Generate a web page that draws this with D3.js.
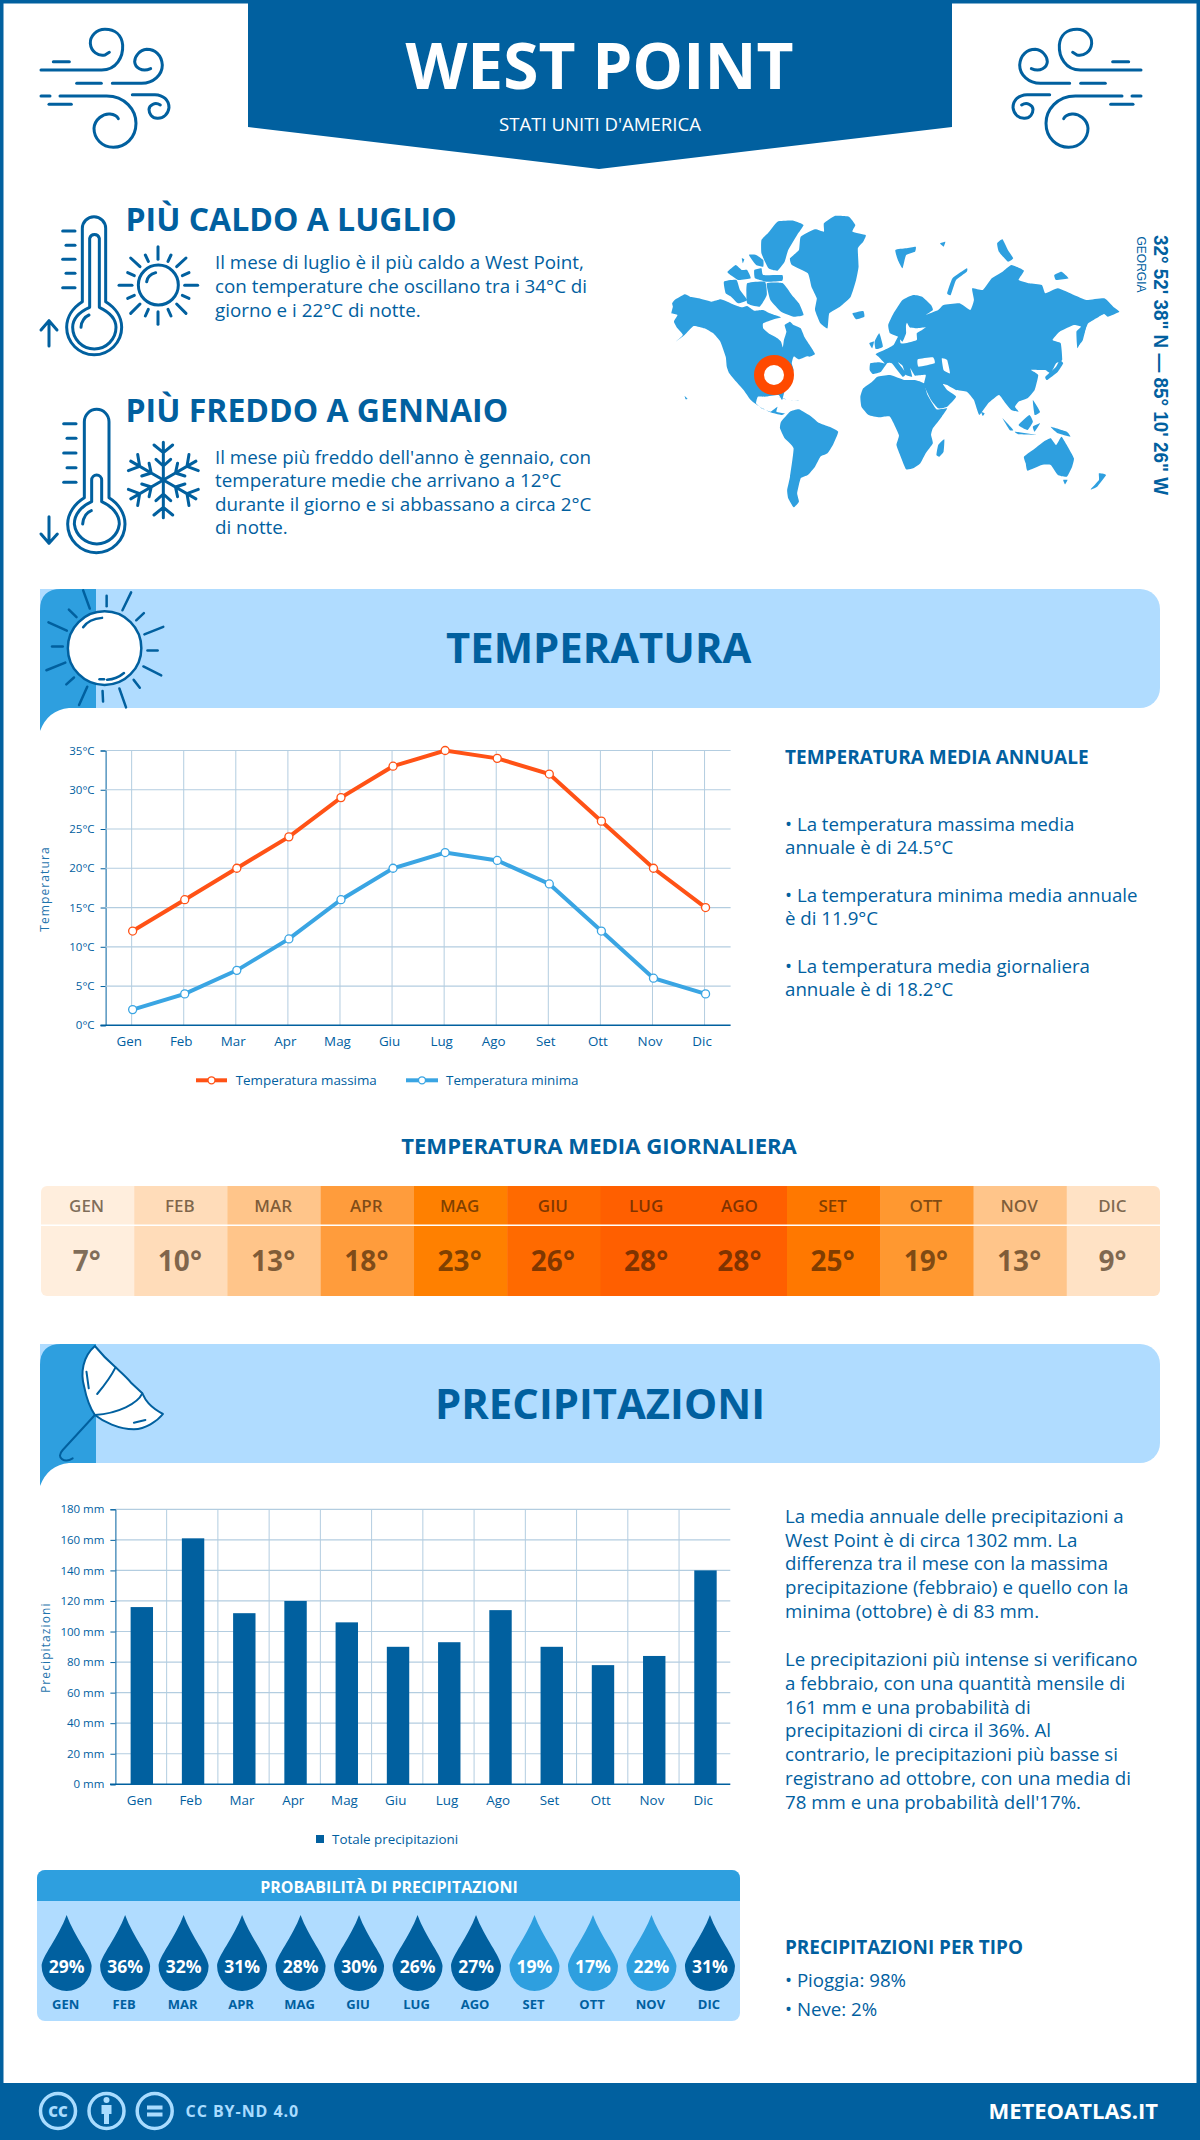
<!DOCTYPE html>
<html><head><meta charset="utf-8">
<script src="https://cdnjs.cloudflare.com/ajax/libs/d3/7.8.5/d3.min.js"></script>
<style>html,body{margin:0;padding:0;background:#fff}svg{display:block}text{font-family:"Open Sans",sans-serif}</style>
</head><body><div id="c"></div>
<script>
const months=["Gen","Feb","Mar","Apr","Mag","Giu","Lug","Ago","Set","Ott","Nov","Dic"];
const monthsUpper=["GEN","FEB","MAR","APR","MAG","GIU","LUG","AGO","SET","OTT","NOV","DIC"];
const tempMax=[12,16,20,24,29,33,35,34,32,26,20,15];
const tempMin=[2,4,7,11,16,20,22,21,18,12,6,4];
const tempTicks=[0,5,10,15,20,25,30,35];
const dailyTemp=[7,10,13,18,23,26,28,28,25,19,13,9];
const precip=[116,161,112,120,106,90,93,114,90,78,84,140];
const precipTicks=[0,20,40,60,80,100,120,140,160,180];
const precipProb=[29,36,32,31,28,30,26,27,19,17,22,31];
const hotLines=["Il mese di luglio è il più caldo a West Point,","con temperature che oscillano tra i 34°C di","giorno e i 22°C di notte."];
const coldLines=["Il mese più freddo dell'anno è gennaio, con","temperature medie che arrivano a 12°C","durante il giorno e si abbassano a circa 2°C","di notte."];
const tempSummary=["• La temperatura massima media","annuale è di 24.5°C",null,"• La temperatura minima media annuale","è di 11.9°C",null,"• La temperatura media giornaliera","annuale è di 18.2°C"];
const precipText=["La media annuale delle precipitazioni a","West Point è di circa 1302 mm. La","differenza tra il mese con la massima","precipitazione (febbraio) e quello con la","minima (ottobre) è di 83 mm.",null,"Le precipitazioni più intense si verificano","a febbraio, con una quantità mensile di","161 mm e una probabilità di","precipitazioni di circa il 36%. Al","contrario, le precipitazioni più basse si","registrano ad ottobre, con una media di","78 mm e una probabilità dell'17%."];

const DARK="#01609f",MID="#2e9fdf",LIGHT="#b0dcff",GRID="#b3cde0",HOT="#ff5216",COLD="#3aa5e3";
const svg=d3.select("#c").append("svg").attr("width",1200).attr("height",2140).attr("viewBox","0 0 1200 2140");
function T(g,x,y,s,o={}){const t=g.append("text").attr("x",x).attr("y",y).text(s)
 .attr("fill",o.fill||DARK).attr("font-size",o.size||18).attr("font-weight",o.weight||400).attr("text-anchor",o.anchor||"start");
 if(o.ls)t.attr("letter-spacing",o.ls); if(o.family)t.style("font-family",o.family); if(o.op)t.attr("fill-opacity",o.op); if(o.len)t.attr("textLength",o.len).attr("lengthAdjust","spacingAndGlyphs"); if(o.rot!=null)t.attr("transform",`rotate(${o.rot} ${x} ${y})`); return t;}
function lines(g,x,y0,step,arr,o){arr.forEach((s,i)=>{if(s)T(g,x,y0+i*step,s,o)})}
function P(g,d,o={}){return g.append("path").attr("d",d).attr("fill",o.fill||"none").attr("stroke",o.stroke===undefined?DARK:o.stroke).attr("stroke-width",o.w||3).attr("stroke-linecap","round").attr("stroke-linejoin","round").attr("vector-effect","non-scaling-stroke")}
function zoomG(x,y,sx,sy){return svg.append("g").attr("transform",`translate(${x},${y}) scale(${sx},${sy===undefined?sx:sy})`)}

// frame
svg.append("rect").attr("x",1.75).attr("y",1.75).attr("width",1196.5).attr("height",2136).attr("fill","#fff").attr("stroke",DARK).attr("stroke-width",3.5);
// header
svg.append("path").attr("d","M248 0H952V127L599 169L248 127Z").attr("fill",DARK);
T(svg,599.5,89,"WEST POINT",{fill:"#fff",size:64,weight:700,anchor:"middle"});
T(svg,600,131,"STATI UNITI D'AMERICA",{fill:"#fff",size:18.6,anchor:"middle"});
// wind icons
const windPaths=["M63 180H245C290 180 310 140 308 105C305 75 285 58 255 58C228 58 210 80 211 100C213 125 235 140 255 135L268 127","M100 155H148","M170 220H244","M277 220H365C400 220 427 195 427 165C425 135 405 118 380 118C358 120 344 140 344 155C345 172 365 188 392 176","M63 258H90","M120 258H260C315 258 348 300 348 340C348 385 315 412 280 412C245 412 222 385 222 355C224 328 250 310 270 312C282 313 292 320 295 326","M87 283H154","M337 254H405C430 255 447 270 447 293C445 312 430 326 412 325C395 325 387 310 387 298C388 285 405 275 421 285"];
[0,1].forEach(i=>{const g=svg.append("g").attr("transform",i?"translate(1182,0) scale(-1,1) translate(20,10) scale(.3333)":"translate(20,10) scale(.3333)");windPaths.forEach(d=>P(g,d,{w:3}))});
// hot block
T(svg,125.5,231,"PIÙ CALDO A LUGLIO",{size:32,weight:700});
lines(svg,215,268.5,24,hotLines,{size:18.8});
{const g=zoomG(30,200,1/3);
 ["M157 305V85A35 35 0 0 1 227 85V305C255 322 275 350 275 382A82 82 0 0 1 110 382C110 350 130 322 157 305Z","M179 322V115A15 15 0 0 1 208 115V322C235 335 258 355 258 382A65 65 0 0 1 128 382C128 355 150 335 179 322Z","M153 382C153 365 165 350 177 345","M98 93H135","M108 136H135","M98 178H135","M108 220H135","M98 263H135","M57 438V362M33 390L57 362L81 390",
 "M267 256H306","M464 256H503","M384 140V178","M384 335V373","M302 174L330 200","M468 174L440 200","M302 340L330 312","M468 340L440 312","M346 165L355 184","M423 165L414 184","M293 218L313 227","M477 218L457 227","M293 295L313 286","M477 295L457 286","M346 348L355 328","M423 348L414 328","M350 245C352 232 362 222 377 218"].forEach(d=>P(g,d));
 g.append("circle").attr("cx",385).attr("cy",255).attr("r",60).attr("fill","none").attr("stroke",DARK).attr("stroke-width",9);}
// cold block
T(svg,125.5,422,"PIÙ FREDDO A GENNAIO",{size:32,weight:700});
lines(svg,215,463.5,23.6,coldLines,{size:18.8});
{const g=zoomG(30,400,1/3);
 ["M163 293V65A37 37 0 0 1 237 65V293C265 310 285 340 285 372A85 85 0 0 1 113 372C113 340 135 310 163 293Z","M185 305V240A15 15 0 0 1 215 240V305C245 318 268 342 268 372A68 68 0 0 1 133 372C133 342 155 318 185 305Z","M158 372C160 352 170 337 184 332","M101 71H138","M111 115H138","M101 159H138","M111 203H138","M101 247H138","M57 350V430M33 402L57 430L82 402"].forEach(d=>P(g,d));
 [0,60,120,180,240,300].forEach(a=>{const h=g.append("g").attr("transform",`translate(400,240) rotate(${a})`);P(h,"M0 0V-113M-28 -105L0 -82L28 -105M-22 -62L0 -42L22 -62");});}

// world map (hand traced outline)
const mapLand=[
"90,310 97,300 125,283 140,290 165,295 200,305 225,298 240,303 265,315 285,322 300,318 320,332 345,330 360,338 378,345 395,352 375,358 345,370 345,385 360,400 385,415 395,425 400,442 403,420 410,395 405,375 420,365 430,375 450,385 460,410 478,440 490,462 475,470 450,465 430,470 425,490 430,510 420,530 408,560 398,600 388,585 350,590 330,590 325,610 340,625 365,635 385,620 382,635 405,640 395,645 365,637 335,620 310,600 290,570 265,540 250,520 243,500 240,470 225,425 205,400 180,385 150,378 125,405 100,425 120,405 105,385 95,365 105,345 88,340 92,320",
"515,70 545,48 585,50 603,75 595,95 632,105 625,125 610,145 612,200 605,240 590,290 560,320 530,340 525,385 505,370 490,330 495,295 480,260 470,220 425,195 420,175 445,150 450,110 490,88 515,95",
"340,120 358,100 385,65 430,62 458,75 440,105 415,150 405,185 385,212 360,205 340,160",
"355,250 400,250 425,285 445,310 458,345 430,350 395,335 365,300",
"245,215 268,195 285,210 300,210 310,235 275,240 250,222","320,210 340,205 345,225 398,225 398,242 355,245 322,235","235,245 270,240 280,270 300,300 275,310 255,290 240,280","300,250 350,245 355,285 335,320 300,310","305,165 325,165 345,180 345,200 325,195","285,175 292,178 288,190","430,465 460,450 472,465 445,478",
"395,665 420,635 445,628 480,650 500,668 530,680 555,695 540,735 525,760 505,770 490,800 470,825 450,835 440,880 445,905 430,922 415,895 412,870 420,830 430,745 405,715 392,685",
"385,590 420,600 445,603 410,598","125,588 133,596 128,598",
"595,340 625,333 628,350 605,358","715,150 745,145 772,140 770,155 745,165 735,205 722,180","840,130 855,125 850,140","860,280 875,235 915,205 915,215 885,240 870,285","1000,130 1015,118 1030,150 1045,175 1030,185 1005,155","1160,225 1180,215 1200,235 1165,240",
"657,425 670,400 680,440 660,447","642,430 655,425 650,445",
"645,490 670,487 685,490 668,470 660,462 690,447 710,435 720,415 727,405 730,430 750,428 775,420 775,400 790,390 800,382 775,385 755,382 745,360 760,340 745,375 745,400 735,425 722,410 700,400 695,375 710,340 735,300 765,285 790,290 815,315 820,330 800,345 835,330 850,315 895,310 925,330 935,300 930,265 960,270 985,235 1015,215 1040,195 1075,212 1060,240 1090,250 1125,255 1135,280 1170,265 1215,285 1250,300 1300,295 1325,320 1342,335 1310,350 1300,342 1285,350 1255,370 1245,395 1225,445 1222,395 1235,380 1215,375 1175,395 1155,420 1178,430 1182,480 1165,490 1150,520 1135,510 1115,510 1095,510 1115,525 1105,570 1085,595 1060,605 1050,620 1060,635 1040,630 1025,612 1005,585 975,610 950,645 935,600 915,575 885,570 860,555 848,552 860,570 885,590 860,620 835,625 815,600 795,555 800,525 770,527 757,505 762,530 745,525 735,497 722,487 745,520 735,530 705,490 692,490 675,515 652,522 643,510",
"617,590 625,565 650,545 665,530 700,525 740,540 770,540 795,550 805,585 830,628 860,625 845,650 820,685 815,705 820,730 800,760 785,790 765,805 745,808 730,770 718,735 725,705 700,650 670,652 640,645 620,620",
"835,735 852,718 850,755 838,770 830,765",
"1135,530 1165,500 1175,480 1185,490 1170,515 1140,540","1225,440 1235,395 1250,375 1240,420",
"1015,655 1045,690 1035,690","1050,695 1110,705 1060,703","1060,675 1090,645 1100,665 1085,690","1100,600 1120,635 1105,645","1100,680 1120,670 1105,695","1150,680 1195,695 1205,710 1170,700",
"1075,770 1100,750 1130,725 1150,715 1165,735 1180,710 1195,735 1215,775 1210,800 1195,830 1170,825 1150,795 1125,795 1085,812 1080,790","1185,840 1197,840 1190,853","1285,820 1305,825 1280,860 1262,868 1285,840","955,635 965,640 960,648"];
const mapHoles=["778,478 820,472 825,490 780,500","845,475 860,480 868,520 850,510"];
{const g=zoomG(640,200,1/2.8,1/3);
 const parse=s=>s.split(" ").map(p=>p.split(",").map(Number));
 const ln=d3.line().curve(d3.curveCardinalClosed.tension(.6));
 mapLand.forEach(s=>g.append("path").attr("d",ln(parse(s))).attr("fill",MID));
 mapHoles.forEach(s=>g.append("path").attr("d",ln(parse(s))).attr("fill","#fff"));}
svg.append("circle").attr("cx",774).attr("cy",375).attr("r",15).attr("fill","#fff").attr("stroke","#ff4a00").attr("stroke-width",10);
T(svg,1154,235,"32° 52' 38\" N — 85° 10' 26\" W",{size:20,weight:700,rot:90,family:"Liberation Sans",len:260});
T(svg,1137,236.5,"GEORGIA",{size:12,rot:90,family:"Liberation Sans",len:56});

// banners
function banner(y,title,tx,baseline){
 svg.append("path").attr("d",`M40 ${y}H1140A20 20 0 0 1 1160 ${y+20}V${y+99}A20 20 0 0 1 1140 ${y+119}H40Z`).attr("fill",LIGHT);
 svg.append("path").attr("d",`M40 ${y+142}V${y+21}Q40 ${y} 61 ${y}H96V${y+119}H69Q48 ${y+121} 40 ${y+142}Z`).attr("fill",MID);
 T(svg,tx,baseline,title,{size:41.8,weight:700,anchor:"middle"});
}
banner(589,"TEMPERATURA",598.7,662.5);
banner(1344,"PRECIPITAZIONI",600,1419);
// banner sun
{const g=zoomG(0,580,1/1.96,1/2.904);
 g.append("ellipse").attr("cx",205).attr("cy",198).attr("rx",72).attr("ry",107).attr("fill","#fff").attr("stroke",DARK).attr("stroke-width",2.5).attr("vector-effect","non-scaling-stroke");
 [[163,30,176,83],[209,46,209,76],[257,36,240,88],[282,96,267,117],[320,136,283,158],[309,205,289,205],[316,277,281,251],[274,313,262,290],[247,370,234,315],[202,353,201,322],[155,363,171,310],[130,303,145,283],[91,262,128,240],[102,193,123,193],[95,123,131,147],[135,86,150,108]].forEach(r=>P(g,`M${r[0]} ${r[1]}L${r[2]} ${r[3]}`,{w:2.5}));
 P(g,"M163 137C170 122 185 112 200 110",{w:2.5});P(g,"M210 290C225 288 235 280 243 270",{w:2.5});P(g,"M195 288H204",{w:2.5});}
// banner umbrella
{const g=zoomG(0,1120,1/1.307,1/3);
 P(g,"M124 678C108 710 105 760 110 800C113 835 118 865 124 885C135 905 155 928 175 928C190 926 205 905 213 882C195 860 190 840 186 820L172 790C165 770 157 755 151 742C140 720 130 695 124 678Z",{fill:"#fff",w:2});
 P(g,"M151 742C145 770 135 800 127 822",{w:2});P(g,"M186 820C180 850 155 880 124 885",{w:2});P(g,"M124 885L82 990C72 1015 85 1030 95 1015",{w:2});P(g,"M113 755L116 805",{w:2});P(g,"M175 908L190 900",{w:2});}

// temperature chart
{const x=d3.scaleBand().domain(months).range([105.6,730.6]);
 const y=d3.scaleLinear().domain([0,35]).range([1025.3,750.5]);
 const g=svg.append("g");
 g.append("g").selectAll("line").data(months).join("line").attr("x1",d=>x(d)+x.bandwidth()/2).attr("x2",d=>x(d)+x.bandwidth()/2).attr("y1",y(35)).attr("y2",y(0)).attr("stroke",GRID);
 const ax=g.append("g").attr("transform","translate(105.6,0)").call(d3.axisLeft(y).tickValues(tempTicks).tickSize(5).tickPadding(6).tickFormat(d=>d+"°C"));
 ax.select(".domain").attr("stroke",DARK);ax.selectAll(".tick line").attr("stroke",DARK);
 ax.selectAll("text").attr("fill",DARK).attr("font-size",11.5).style("font-family",'"Open Sans"');
 g.append("g").selectAll("line").data(tempTicks.slice(1)).join("line").attr("x1",105.6).attr("x2",730.6).attr("y1",d=>y(d)).attr("y2",d=>y(d)).attr("stroke",GRID).attr("stroke-width",1.2);
 g.append("line").attr("x1",100.5).attr("x2",730.6).attr("y1",y(0)).attr("y2",y(0)).attr("stroke",DARK).attr("stroke-width",1.5);
 const bx=g.append("g").attr("transform","translate(-2.5,1025.3)").call(d3.axisBottom(x).tickSize(0).tickPadding(11));
 bx.select(".domain").remove();bx.selectAll("text").attr("fill",DARK).attr("font-size",13.4).style("font-family",'"Open Sans"');
 const ln=d3.line().x((d,i)=>x(months[i])+x.bandwidth()/2+1).y(d=>y(d));
 [[tempMax,HOT],[tempMin,COLD]].forEach(([s,c])=>{
  g.append("path").attr("d",ln(s)).attr("fill","none").attr("stroke",c).attr("stroke-width",4);
  g.append("g").selectAll("circle").data(s).join("circle").attr("cx",(d,i)=>x(months[i])+x.bandwidth()/2+1).attr("cy",d=>y(d)).attr("r",4).attr("fill","#fff").attr("stroke",c).attr("stroke-width",1.3);
 });
 T(g,49,889,"Temperatura",{size:12,anchor:"middle",rot:-90,ls:1.1,fill:"#1f74ad"});
 [[196,227,HOT,235.7,"Temperatura massima"],[406,438,COLD,446,"Temperatura minima"]].forEach(([a,b,c,tx,s])=>{
  g.append("line").attr("x1",a).attr("x2",b).attr("y1",1080.3).attr("y2",1080.3).attr("stroke",c).attr("stroke-width",4);
  g.append("circle").attr("cx",(a+b)/2).attr("cy",1080.3).attr("r",3.5).attr("fill","#fff").attr("stroke",c).attr("stroke-width",1.3);
  T(g,tx,1084.5,s,{size:13.4});
 });}
// right temp text
T(svg,785,763.6,"TEMPERATURA MEDIA ANNUALE",{size:19,weight:700});
[830.7,854.4,null,901.7,925.4,null,972.7,996.4].forEach((yy,i)=>{if(yy)T(svg,785,yy,tempSummary[i],{size:18.7})});

// daily heat strip
T(svg,599,1154,"TEMPERATURA MEDIA GIORNALIERA",{size:22.1,weight:700,anchor:"middle"});
{const heat=d3.scaleLinear().domain([7,10,13,18,19,23,25,26,28]).range(["#ffeedd","#ffdcb9","#ffc58a","#ff9c3c","#ff9830","#ff8000","#ff7800","#ff6a00","#ff5f00"]);
 const x=d3.scaleBand().domain(d3.range(12)).range([41,1160]);
 const g=svg.append("g");
 const defs=svg.append("defs");defs.append("clipPath").attr("id","hc").append("rect").attr("x",41).attr("y",1186).attr("width",1119).attr("height",110).attr("rx",6);
 g.append("g").attr("clip-path","url(#hc)").selectAll("rect").data(dailyTemp).join("rect").attr("x",(d,i)=>x(i)).attr("y",1186).attr("width",x.bandwidth()+.5).attr("height",110).attr("fill",d=>heat(d));
 g.append("line").attr("x1",41).attr("x2",1160).attr("y1",1225.3).attr("y2",1225.3).attr("stroke","#fff").attr("stroke-width",1.5);
 dailyTemp.forEach((d,i)=>{const cx=x(i)+x.bandwidth()/2-1;
  T(g,cx,1211.7,monthsUpper[i],{size:17,weight:600,anchor:"middle",fill:"#2a1500",op:.6});
  T(g,cx,1270.7,d+"°",{size:28,weight:700,anchor:"middle",fill:"#2a1500",op:.6});});}

// precipitation chart
{const x=d3.scaleBand().domain(months).range([115.4,730.3]);
 const y=d3.scaleLinear().domain([0,180]).range([1784.3,1509.3]);
 const g=svg.append("g");
 g.append("g").selectAll("line").data(months.slice(1)).join("line").attr("x1",d=>x(d)).attr("x2",d=>x(d)).attr("y1",y(180)).attr("y2",y(0)).attr("stroke",GRID);
 g.append("g").selectAll("line").data(precipTicks.slice(1)).join("line").attr("x1",115.4).attr("x2",730.3).attr("y1",d=>y(d)).attr("y2",d=>y(d)).attr("stroke",GRID).attr("stroke-width",1.2);
 const ax=g.append("g").attr("transform","translate(115.4,0)").call(d3.axisLeft(y).tickValues(precipTicks).tickSize(5).tickPadding(6).tickFormat(d=>d+" mm"));
 ax.select(".domain").attr("stroke",DARK);ax.selectAll(".tick line").attr("stroke",DARK);
 ax.selectAll("text").attr("fill",DARK).attr("font-size",11.5).style("font-family",'"Open Sans"');
 g.append("g").selectAll("rect").data(precip).join("rect").attr("x",(d,i)=>x(months[i])+x.bandwidth()/2-10.4).attr("width",22.4).attr("y",d=>y(d)).attr("height",d=>y(0)-y(d)).attr("fill",DARK);
 g.append("line").attr("x1",110).attr("x2",730.3).attr("y1",y(0)).attr("y2",y(0)).attr("stroke",DARK).attr("stroke-width",1.5);
 const bx=g.append("g").attr("transform","translate(-1.5,1784.3)").call(d3.axisBottom(x).tickSize(0).tickPadding(11));
 bx.select(".domain").remove();bx.selectAll("text").attr("fill",DARK).attr("font-size",13.4).style("font-family",'"Open Sans"');
 T(g,50,1647.7,"Precipitazioni",{size:12,anchor:"middle",rot:-90,ls:1.1,fill:"#1f74ad"});
 g.append("rect").attr("x",316).attr("y",1835).attr("width",8).attr("height",8).attr("fill",DARK);
 T(g,332,1843.5,"Totale precipitazioni",{size:13.4});}
// right precip text
lines(svg,785,1522.7,23.85,precipText,{size:18.7});
// probability
{const g=svg.append("g");
 g.append("rect").attr("x",37).attr("y",1870).attr("width",703).attr("height",151).attr("rx",8).attr("fill",LIGHT);
 g.append("path").attr("d","M37 1901V1878A8 8 0 0 1 45 1870H732A8 8 0 0 1 740 1878V1901Z").attr("fill",MID);
 T(g,389,1893,"PROBABILITÀ DI PRECIPITAZIONI",{size:16,weight:700,fill:"#fff",anchor:"middle"});
 const x=d3.scaleBand().domain(d3.range(12)).range([37.4,739.2]);
 const drop="M0 0C8 22 25 42 25 51A25 25 0 0 1 -25 51C-25 42 -8 22 0 0Z";
 const wet=d3.scaleThreshold().domain([25]).range([MID,DARK]);
 precipProb.forEach((p,i)=>{const cx=x(i)+x.bandwidth()/2;
  g.append("path").attr("d",drop).attr("transform",`translate(${cx},1915)`).attr("fill",wet(p));
  T(g,cx,1972.7,p+"%",{size:17.5,weight:700,fill:"#fff",anchor:"middle"});
  T(g,cx-1,2009,monthsUpper[i],{size:13,weight:700,anchor:"middle"});});}
T(svg,785,1953.5,"PRECIPITAZIONI PER TIPO",{size:18.9,weight:700});
T(svg,785,1986.7,"• Pioggia: 98%",{size:18.7});
T(svg,785,2016,"• Neve: 2%",{size:18.7});
// footer
svg.append("rect").attr("x",0).attr("y",2083).attr("width",1200).attr("height",57).attr("fill",DARK);
{const c="#a9dcff",g=svg.append("g");
 [58,106.5,154.7].forEach(cx=>g.append("circle").attr("cx",cx).attr("cy",2111).attr("r",17.5).attr("fill","none").attr("stroke",c).attr("stroke-width",3.5));
 T(g,58,2116.5,"CC",{size:15,weight:800,fill:c,anchor:"middle"});
 g.append("circle").attr("cx",106.5).attr("cy",2100).attr("r",3).attr("fill",c);
 g.append("path").attr("d","M101.5 2105H111.5V2114H109V2124H104V2114H101.5Z").attr("fill",c);
 g.append("path").attr("d","M147 2105.5H162.5V2109.5H147ZM147 2112.5H162.5V2116.5H147Z").attr("fill",c);
 T(g,185.5,2117,"CC BY-ND 4.0",{size:16,weight:700,fill:c,ls:.95});}
T(svg,1158,2119,"METEOATLAS.IT",{size:22,weight:700,fill:"#fff",anchor:"end"});
</script></body></html>
